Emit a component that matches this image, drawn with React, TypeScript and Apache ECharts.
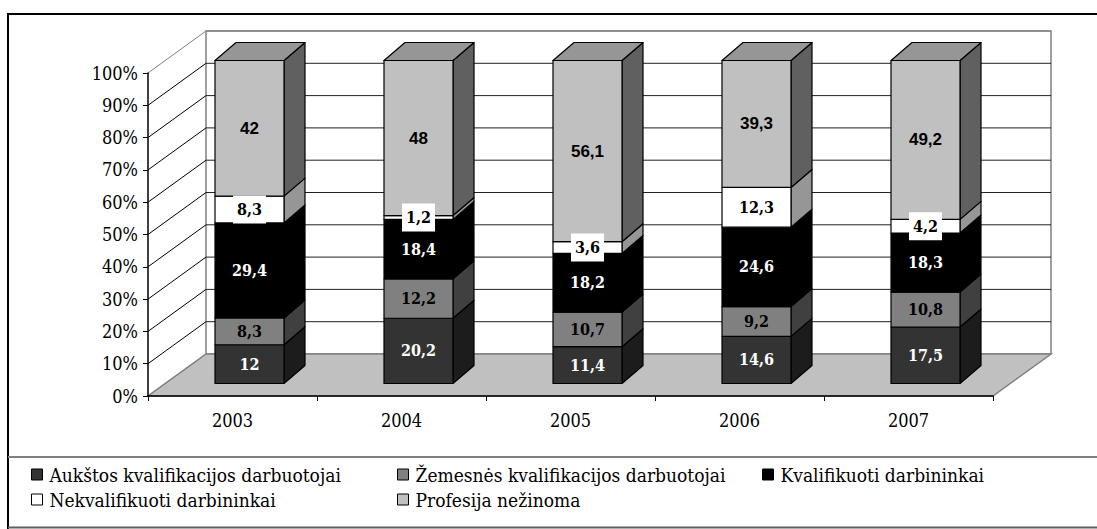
import React, { useEffect, useRef } from "react";
import * as echarts from "echarts";

const years = ["2003", "2004", "2005", "2006", "2007"];
const seriesNames = [
  "Aukštos kvalifikacijos darbuotojai",
  "Žemesnės kvalifikacijos darbuotojai",
  "Kvalifikuoti darbininkai",
  "Nekvalifikuoti darbininkai",
  "Profesija nežinoma",
];
const aukstos = [12, 20.2, 11.4, 14.6, 17.5];
const zemesnes = [8.3, 12.2, 10.7, 9.2, 10.8];
const kvalifikuoti = [29.4, 18.4, 18.2, 24.6, 18.3];
const nekvalifikuoti = [8.3, 1.2, 3.6, 12.3, 4.2];
const nezinoma = [42, 48, 56.1, 39.3, 49.2];
const yTicks = [0, 10, 20, 30, 40, 50, 60, 70, 80, 90, 100];

const allValues = [aukstos, zemesnes, kvalifikuoti, nekvalifikuoti, nezinoma];

const frontColors = ["#333333", "#808080", "#000000", "#ffffff", "#c0c0c0"];
const sideColors = ["#1c1c1c", "#404040", "#000000", "#969696", "#606060"];
const topColor = "#969696";
const labelColors = ["#ffffff", "#000000", "#ffffff", "#000000", "#000000"];

const SERIF = "DejaVu Serif Condensed";
const SANS = "Liberation Sans";

// 3D projection offsets (pixels)
const WALL_DX = 58;
const WALL_DY = 42;
const BAR_FX = 17;
const BAR_FY = 12.5;
const BAR_DX = 21;
const BAR_DY = 18;
const BAR_W = 69;

const fmt = (v: number) => String(v).replace(".", ",");

export default function App() {
  const ref = useRef<HTMLDivElement>(null);

  useEffect(() => {
    if (!ref.current) return;
    const chart = echarts.init(ref.current, undefined, { renderer: "svg" });

    const wallSeries: any = {
      type: "custom",
      name: "wall",
      z: 1,
      silent: true,
      data: [[0, 0]],
      renderItem: (params: any, api: any) => {
        const cs = params.coordSys;
        const x0 = cs.x;
        const x1 = cs.x + cs.width;
        const y0 = cs.y;
        const y1 = cs.y + cs.height;
        return {
          type: "group",
          children: [
            {
              type: "polygon",
              shape: {
                points: [
                  [x0 + WALL_DX, y0 - WALL_DY],
                  [x1 + WALL_DX, y0 - WALL_DY],
                  [x1 + WALL_DX, y1 - WALL_DY],
                  [x0 + WALL_DX, y1 - WALL_DY],
                ],
              },
              style: { fill: "#ffffff", stroke: "#808080", lineWidth: 1.5 },
            },
            {
              type: "polygon",
              shape: {
                points: [
                  [x0, y1],
                  [x1, y1],
                  [x1 + WALL_DX, y1 - WALL_DY],
                  [x0 + WALL_DX, y1 - WALL_DY],
                ],
              },
              style: { fill: "#c0c0c0", stroke: "#808080", lineWidth: 1.5 },
            },
          ],
        };
      },
    };

    const gridSeries: any = {
      type: "custom",
      name: "gridlines",
      z: 2,
      silent: true,
      data: yTicks.map((v) => [0, v]),
      renderItem: (params: any, api: any) => {
        const cs = params.coordSys;
        const v = api.value(1);
        const y = api.coord([0, v])[1];
        const edge = v === 0 || v === 100;
        const children: any[] = [
          {
            type: "line",
            shape: { x1: cs.x, y1: y, x2: cs.x + WALL_DX, y2: y - WALL_DY },
            style: { stroke: edge ? "#808080" : "#000000", lineWidth: 1 },
          },
        ];
        if (v !== 0) {
          children.push({
            type: "line",
            shape: {
              x1: cs.x + WALL_DX,
              y1: y - WALL_DY,
              x2: cs.x + cs.width + WALL_DX,
              y2: y - WALL_DY,
            },
            style: { stroke: edge ? "#808080" : "#222222", lineWidth: 1 },
          });
        }
        return { type: "group", children };
      },
    };

    const barSeries: any[] = allValues.map((vals, si) => {
      const data = vals.map((v, ci) => {
        let base = 0;
        for (let k = 0; k < si; k++) base += allValues[k][ci];
        return [ci, base, v];
      });
      const isTop = si === allValues.length - 1;
      return {
        type: "custom",
        name: seriesNames[si],
        z: 3,
        itemStyle: { color: frontColors[si], borderColor: "#000", borderWidth: 1 },
        data,
        renderItem: (params: any, api: any) => {
          const ci = api.value(0);
          const base = api.value(1);
          const val = api.value(2);
          const pB = api.coord([ci, base]);
          const pT = api.coord([ci, base + val]);
          const xL = pB[0] + BAR_FX - BAR_W / 2;
          const xR = xL + BAR_W;
          const yB = pB[1] - BAR_FY;
          const yT = pT[1] - BAR_FY;
          const stroke = { stroke: "#000000", lineWidth: 1.2, lineJoin: "round" };
          const children: any[] = [
            {
              type: "polygon",
              shape: {
                points: [
                  [xR, yB],
                  [xR + BAR_DX, yB - BAR_DY],
                  [xR + BAR_DX, yT - BAR_DY],
                  [xR, yT],
                ],
              },
              style: { fill: sideColors[si], ...stroke },
            },
            {
              type: "rect",
              shape: { x: xL, y: yT, width: BAR_W, height: yB - yT },
              style: { fill: frontColors[si], ...stroke },
            },
          ];
          if (isTop) {
            children.push({
              type: "polygon",
              shape: {
                points: [
                  [xL, yT],
                  [xR, yT],
                  [xR + BAR_DX, yT - BAR_DY],
                  [xL + BAR_DX, yT - BAR_DY],
                ],
              },
              style: { fill: topColor, ...stroke },
            });
          }
          const labelStyle: any = {
            text: fmt(val),
            x: (xL + xR) / 2,
            y: (yB + yT) / 2,
            align: "center",
            verticalAlign: "middle",
            fill: labelColors[si],
            fontWeight: "bold",
            fontSize: isTop ? 17 : 16,
            fontFamily: isTop ? SANS : SERIF,
          };
          if (si === 3) {
            labelStyle.backgroundColor = "#ffffff";
            labelStyle.padding = [6, 4];
          }
          children.push({ type: "text", z2: 10, style: labelStyle });
          return { type: "group", children };
        },
      };
    });

    const legendBase = {
      orient: "vertical",
      padding: 0,
      itemWidth: 11,
      itemHeight: 11,
      itemGap: 6,
      icon: "rect",
      itemStyle: { borderColor: "#000000", borderWidth: 1 },
      textStyle: {
        fontFamily: SERIF,
        fontSize: 19,
        lineHeight: 19,
        color: "#000000",
        padding: [0, 0, 0, 2],
      },
      selectedMode: false,
      top: 465,
    };

    chart.setOption({
      animation: false,
      backgroundColor: "#ffffff",
      grid: { left: 148, right: 104, top: 73, bottom: 133, containLabel: false },
      xAxis: {
        type: "category",
        data: years,
        z: 10,
        axisLine: { show: true, lineStyle: { color: "#000000", width: 1.5 } },
        axisTick: { show: true, length: 5, lineStyle: { color: "#000000" } },
        axisLabel: {
          margin: 15,
          color: "#000000",
          fontFamily: SERIF,
          fontSize: 18,
        },
        splitLine: { show: false },
      },
      yAxis: {
        type: "value",
        min: 0,
        max: 100,
        interval: 10,
        z: 10,
        axisLine: { show: true, lineStyle: { color: "#000000", width: 1.5 } },
        axisTick: { show: true, length: 5, lineStyle: { color: "#000000" } },
        axisLabel: {
          margin: 10,
          formatter: "{value}%",
          color: "#000000",
          fontFamily: SERIF,
          fontSize: 18,
        },
        splitLine: { show: false },
      },
      legend: [
        { ...legendBase, left: 31, data: [seriesNames[0], seriesNames[3]] },
        { ...legendBase, left: 397, data: [seriesNames[1], seriesNames[4]] },
        { ...legendBase, left: 762, data: [seriesNames[2]] },
      ],
      graphic: [
        {
          type: "line",
          shape: { x1: 8, y1: 14, x2: 1097, y2: 14 },
          style: { stroke: "#000000", lineWidth: 2 },
        },
        {
          type: "line",
          shape: { x1: 8, y1: 13, x2: 8, y2: 529 },
          style: { stroke: "#000000", lineWidth: 2 },
        },
        {
          type: "line",
          shape: { x1: 8, y1: 457, x2: 1097, y2: 457 },
          style: { stroke: "#808080", lineWidth: 2 },
        },
        {
          type: "line",
          shape: { x1: 8, y1: 527.5, x2: 1097, y2: 527.5 },
          style: { stroke: "#606060", lineWidth: 2 },
        },
      ],
      series: [wallSeries, gridSeries, ...barSeries],
    });

    return () => chart.dispose();
  }, []);

  return (
    <div
      ref={ref}
      style={{ position: "absolute", left: 0, top: 0, width: 1097, height: 529 }}
    />
  );
}
